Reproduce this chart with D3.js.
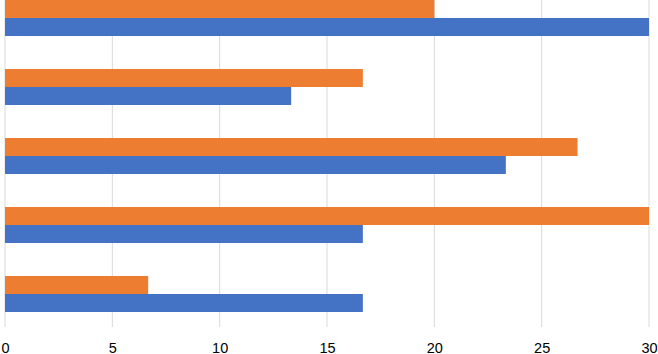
<!DOCTYPE html>
<html>
<head>
<meta charset="utf-8">
<script src="https://cdn.jsdelivr.net/npm/d3@7"></script>
<style>
  html, body { margin: 0; padding: 0; background: #fff; }
  svg { display: block; }
</style>
</head>
<body>
<svg id="chart" width="658" height="354"></svg>
<script>
// Data (categories listed top to bottom)
const categories = ["A", "B", "C", "D", "E"];
const seriesNames = ["Series 2", "Series 1"]; // upper bar, lower bar within a group
const series1 = [30, 13.33, 23.33, 16.67, 16.67];   // blue
const series2 = [20, 16.67, 26.67, 30, 6.67];       // orange
const xTicks = [0, 5, 10, 15, 20, 25, 30];
const colors = { "Series 1": "#4472C4", "Series 2": "#ED7D31" };

const rows = categories.map((c, i) => ({
  cat: c,
  "Series 1": series1[i],
  "Series 2": series2[i]
}));

const svg = d3.select("#chart");

const x = d3.scaleLinear().domain([0, 30]).range([5, 649]);
const y = d3.scaleBand().domain(categories).range([-16.5, 328.5])
  .paddingInner(0.478).paddingOuter(0.239);
const ySub = d3.scaleBand().domain(seriesNames).range([0, y.bandwidth()]);

// Gridlines
svg.append("g").selectAll("line").data(xTicks).join("line")
  .attr("x1", d => x(d)).attr("x2", d => x(d))
  .attr("y1", 0).attr("y2", 327)
  .attr("stroke", "#D9D9D9").attr("stroke-width", 1);

// Bars
const groups = svg.append("g").selectAll("g").data(rows).join("g")
  .attr("transform", d => `translate(0,${y(d.cat)})`);
groups.selectAll("rect")
  .data(d => seriesNames.map(s => ({ s, v: d[s] })))
  .join("rect")
  .attr("x", x(0))
  .attr("y", d => ySub(d.s))
  .attr("width", d => x(d.v) - x(0))
  .attr("height", ySub.bandwidth())
  .attr("fill", d => colors[d.s]);

// Axis tick labels
const axis = d3.axisBottom(x).tickValues(xTicks).tickSize(0).tickPadding(0);
const gAxis = svg.append("g").attr("transform", "translate(0,342)").call(axis);
gAxis.select(".domain").remove();
gAxis.selectAll("text")
  .attr("font-family", "'Liberation Sans', Arial, sans-serif")
  .attr("font-size", "14.5px")
  .attr("fill", "#000")
  .attr("dy", "0.73em");
</script>
</body>
</html>
